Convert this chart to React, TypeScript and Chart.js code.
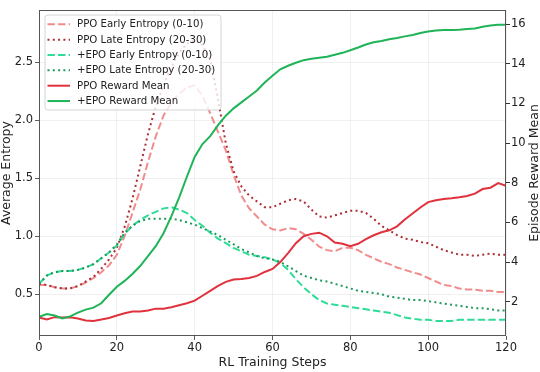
import React, { useEffect, useRef } from 'react';
import { Chart, registerables } from 'chart.js';

Chart.register(...registerables);

const FONT = "'DejaVu Sans', 'Liberation Sans', sans-serif";

const steps = [
  0, 2, 4, 6, 8, 10, 12, 14, 16, 18, 20,
  22, 24, 26, 28, 30, 32, 34, 36, 38, 40,
  42, 44, 46, 48, 50, 52, 54, 56, 58, 60,
  62, 64, 66, 68, 70, 72, 74, 76, 78, 80,
  82, 84, 86, 88, 90, 92, 94, 96, 98, 100,
  102, 104, 106, 108, 110, 112, 114, 116, 118, 120,
];

const ppoEarlyEntropy = [
  0.58, 0.58, 0.56, 0.55, 0.55, 0.57, 0.60, 0.64, 0.69, 0.75, 0.84,
  1.00, 1.20, 1.40, 1.64, 1.86, 2.04, 2.15, 2.23, 2.28, 2.30,
  2.21, 2.06, 1.90, 1.74, 1.53, 1.35, 1.24, 1.17, 1.10, 1.06,
  1.05, 1.07, 1.06, 1.02, 0.97, 0.91, 0.88, 0.87, 0.90, 0.90,
  0.88, 0.84, 0.81, 0.78, 0.76, 0.73, 0.71, 0.69, 0.67, 0.64,
  0.61, 0.58, 0.57, 0.55, 0.54, 0.54, 0.53, 0.53, 0.52, 0.52,
];

const ppoLateEntropy = [
  0.59, 0.58, 0.56, 0.55, 0.55, 0.57, 0.61, 0.65, 0.72, 0.80, 0.90,
  1.08, 1.32, 1.60, 1.88, 2.12, 2.30, 2.46, 2.58, 2.66, 2.69,
  2.65, 2.52, 2.18, 1.80, 1.56, 1.43, 1.35, 1.30, 1.25, 1.25,
  1.28, 1.31, 1.32, 1.30, 1.23, 1.17, 1.16, 1.18, 1.20, 1.22,
  1.22, 1.20, 1.15, 1.09, 1.05, 1.01, 0.98, 0.97, 0.95, 0.94,
  0.91, 0.88, 0.86, 0.84, 0.84, 0.83, 0.84, 0.85, 0.84, 0.84,
];

const epoEarlyEntropy = [
  0.59, 0.66, 0.69, 0.70, 0.70, 0.71, 0.73, 0.76, 0.81, 0.86, 0.92,
  1.02, 1.09, 1.14, 1.18, 1.21, 1.24, 1.25, 1.23, 1.20, 1.14,
  1.09, 1.03, 0.98, 0.94, 0.90, 0.87, 0.84, 0.83, 0.82, 0.80,
  0.77, 0.71, 0.63, 0.56, 0.50, 0.45, 0.42, 0.41, 0.40, 0.39,
  0.38, 0.37, 0.36, 0.35, 0.34, 0.32, 0.30, 0.29, 0.28, 0.28,
  0.27, 0.27, 0.27, 0.28, 0.28, 0.28, 0.28, 0.28, 0.28, 0.28,
];

const epoLateEntropy = [
  0.59, 0.66, 0.69, 0.70, 0.70, 0.71, 0.73, 0.76, 0.81, 0.86, 0.93,
  1.03, 1.09, 1.13, 1.15, 1.15, 1.15, 1.15, 1.14, 1.12, 1.10,
  1.07, 1.04, 1.01, 0.97, 0.93, 0.89, 0.86, 0.83, 0.81, 0.80,
  0.78, 0.74, 0.70, 0.66, 0.64, 0.62, 0.61, 0.59, 0.57, 0.55,
  0.53, 0.52, 0.51, 0.50, 0.48, 0.47, 0.46, 0.45, 0.45, 0.44,
  0.43, 0.42, 0.41, 0.40, 0.39, 0.38, 0.38, 0.37, 0.36, 0.36,
];

const ppoRewardMean = [
  1.20, 1.10, 1.22, 1.20, 1.22, 1.15, 1.05, 1.03, 1.10, 1.18, 1.30,
  1.42, 1.50, 1.50, 1.56, 1.65, 1.65, 1.72, 1.82, 1.92, 2.05,
  2.30, 2.55, 2.80, 3.00, 3.12, 3.15, 3.20, 3.30, 3.50, 3.65,
  4.00, 4.45, 4.95, 5.30, 5.42, 5.48, 5.30, 4.98, 4.92, 4.80,
  4.92, 5.15, 5.35, 5.50, 5.60, 5.80, 6.15, 6.45, 6.75, 7.02,
  7.12, 7.18, 7.22, 7.27, 7.33, 7.45, 7.68, 7.75, 7.98, 7.85,
];

const epoRewardMean = [
  1.24, 1.38, 1.30, 1.16, 1.26, 1.45, 1.60, 1.70, 1.92, 2.35, 2.75,
  3.05, 3.40, 3.80, 4.30, 4.80, 5.45, 6.30, 7.25, 8.30, 9.30,
  9.95, 10.35, 10.90, 11.38, 11.75, 12.05, 12.35, 12.65, 13.05, 13.40,
  13.72, 13.90, 14.05, 14.18, 14.25, 14.30, 14.35, 14.45, 14.55, 14.68,
  14.82, 14.97, 15.08, 15.15, 15.23, 15.30, 15.38, 15.45, 15.55, 15.63,
  15.68, 15.70, 15.70, 15.72, 15.75, 15.78, 15.86, 15.93, 15.96, 15.97,
];

const xTicks = [0, 20, 40, 60, 80, 100, 120];
const entropyTicks = [0.5, 1.0, 1.5, 2.0, 2.5];
const rewardTicks = [2, 4, 6, 8, 10, 12, 14, 16];

const seriesLabels = [
  'PPO Early Entropy (0-10)',
  'PPO Late Entropy (20-30)',
  '+EPO Early Entropy (0-10)',
  '+EPO Late Entropy (20-30)',
  'PPO Reward Mean',
  '+EPO Reward Mean',
];

const DASH = [7.4, 3.2];
const DOT = [2, 3.3];

const toPts = (vals: number[]) => vals.map((v, i) => ({ x: steps[i], y: v }));

const decorPlugin = {
  id: 'decor',
  afterDatasetsDraw(chart: any) {
    const { ctx } = chart;
    const ds = chart.data.datasets;
    ctx.save();
    const lx = 45, ly = 15, lw = 176, lh = 95, r = 3;
    ctx.beginPath();
    ctx.moveTo(lx + r, ly);
    ctx.lineTo(lx + lw - r, ly);
    ctx.quadraticCurveTo(lx + lw, ly, lx + lw, ly + r);
    ctx.lineTo(lx + lw, ly + lh - r);
    ctx.quadraticCurveTo(lx + lw, ly + lh, lx + lw - r, ly + lh);
    ctx.lineTo(lx + r, ly + lh);
    ctx.quadraticCurveTo(lx, ly + lh, lx, ly + lh - r);
    ctx.lineTo(lx, ly + r);
    ctx.quadraticCurveTo(lx, ly, lx + r, ly);
    ctx.closePath();
    ctx.fillStyle = 'rgba(255,255,255,0.8)';
    ctx.fill();
    ctx.strokeStyle = '#d4d4d4';
    ctx.lineWidth = 1;
    ctx.stroke();
    ctx.font = `10.2px ${FONT}`;
    ctx.textBaseline = 'middle';
    ctx.textAlign = 'left';
    for (let i = 0; i < ds.length; i++) {
      const y = 24.3 + i * 15.35;
      ctx.beginPath();
      ctx.setLineDash(ds[i].borderDash || []);
      ctx.strokeStyle = ds[i].borderColor;
      ctx.lineWidth = ds[i].borderWidth;
      ctx.moveTo(47.5, y);
      ctx.lineTo(70, y);
      ctx.stroke();
      ctx.setLineDash([]);
      ctx.fillStyle = '#222';
      ctx.fillText(ds[i].label, 77, y + 0.5);
    }
    ctx.restore();
  },
  afterDraw(chart: any) {
    const { ctx, chartArea: a } = chart;
    ctx.save();
    ctx.strokeStyle = '#555';
    ctx.lineWidth = 1;
    ctx.strokeRect(a.left + 0.5, a.top + 0.5, a.right - a.left - 1, a.bottom - a.top - 1);
    ctx.translate(535, (a.top + a.bottom) / 2);
    ctx.rotate(-Math.PI / 2);
    ctx.font = `12.5px ${FONT}`;
    ctx.fillStyle = '#222';
    ctx.textAlign = 'center';
    ctx.textBaseline = 'middle';
    ctx.fillText('Episode Reward Mean', 0, 0);
    ctx.restore();
  },
};

export default function App() {
  const ref = useRef<HTMLCanvasElement | null>(null);
  useEffect(() => {
    if (!ref.current) return;
    const chart = new Chart(ref.current, {
      type: 'line',
      data: {
        datasets: [
          { label: seriesLabels[0], data: toPts(ppoEarlyEntropy), yAxisID: 'y', borderColor: 'rgba(240,128,128,0.9)', borderDash: DASH, borderWidth: 2, order: 6 },
          { label: seriesLabels[1], data: toPts(ppoLateEntropy), yAxisID: 'y', borderColor: '#ad2e34', borderDash: DOT, borderWidth: 2, order: 5 },
          { label: seriesLabels[2], data: toPts(epoEarlyEntropy), yAxisID: 'y', borderColor: '#2fdc97', borderDash: DASH, borderWidth: 2, order: 4 },
          { label: seriesLabels[3], data: toPts(epoLateEntropy), yAxisID: 'y', borderColor: '#1e9a5c', borderDash: DOT, borderWidth: 2, order: 3 },
          { label: seriesLabels[4], data: toPts(ppoRewardMean), yAxisID: 'y1', borderColor: '#e0323c', borderWidth: 2, order: 2 },
          { label: seriesLabels[5], data: toPts(epoRewardMean), yAxisID: 'y1', borderColor: '#1fb457', borderWidth: 2, order: 1 },
        ] as any,
      },
      options: {
        animation: false,
        responsive: false,
        layout: { padding: { top: 10, left: 0, right: 0, bottom: 0 } },
        plugins: { legend: { display: false }, tooltip: { enabled: false } },
        elements: { point: { radius: 0 }, line: { tension: 0, borderCapStyle: 'butt' } },
        scales: {
          x: {
            type: 'linear',
            min: 0,
            max: 120,
            afterBuildTicks: (s: any) => { s.ticks = xTicks.map((v) => ({ value: v })); },
            afterFit: (s: any) => { s.height = 36; },
            grid: { color: '#ececec', lineWidth: 0.8, tickColor: '#333', tickLength: 4 },
            border: { display: false },
            ticks: { font: { family: FONT, size: 11.5 }, color: '#222', padding: 1, maxRotation: 0, autoSkip: false },
            title: { display: true, text: 'RL Training Steps', color: '#222', font: { family: FONT, size: 12.5, lineHeight: 1.2 }, padding: { top: 0, bottom: 2 } },
          },
          y: {
            type: 'linear',
            position: 'left',
            min: 0.14,
            max: 2.95,
            afterBuildTicks: (s: any) => { s.ticks = entropyTicks.map((v) => ({ value: v })); },
            afterFit: (s: any) => { s.width = 39; },
            grid: { color: '#ececec', lineWidth: 0.8, tickColor: '#333', tickLength: 4 },
            border: { display: false },
            ticks: { font: { family: FONT, size: 11.5 }, color: '#222', padding: 2, callback: (v: any) => Number(v).toFixed(1) },
            title: { display: true, text: 'Average Entropy', color: '#222', font: { family: FONT, size: 12.5, lineHeight: 1.12 }, padding: { top: 0, bottom: 0 } },
          },
          y1: {
            type: 'linear',
            position: 'right',
            min: 0.27,
            max: 16.71,
            afterBuildTicks: (s: any) => { s.ticks = rewardTicks.map((v) => ({ value: v })); },
            afterFit: (s: any) => { s.width = 34; },
            grid: { drawOnChartArea: false, tickColor: '#333', tickLength: 4 },
            border: { display: false },
            ticks: { font: { family: FONT, size: 11.5 }, color: '#222', padding: 1, callback: (v: any) => String(v) },
            title: { display: false },
          },
        },
      } as any,
      plugins: [decorPlugin as any],
    });
    return () => chart.destroy();
  }, []);
  return (
    <div style={{ position: 'fixed', left: 0, top: 0, width: 540, height: 372, background: '#fff' }}>
      <canvas ref={ref} width={540} height={372} style={{ width: 540, height: 372, display: 'block' }} />
    </div>
  );
}
